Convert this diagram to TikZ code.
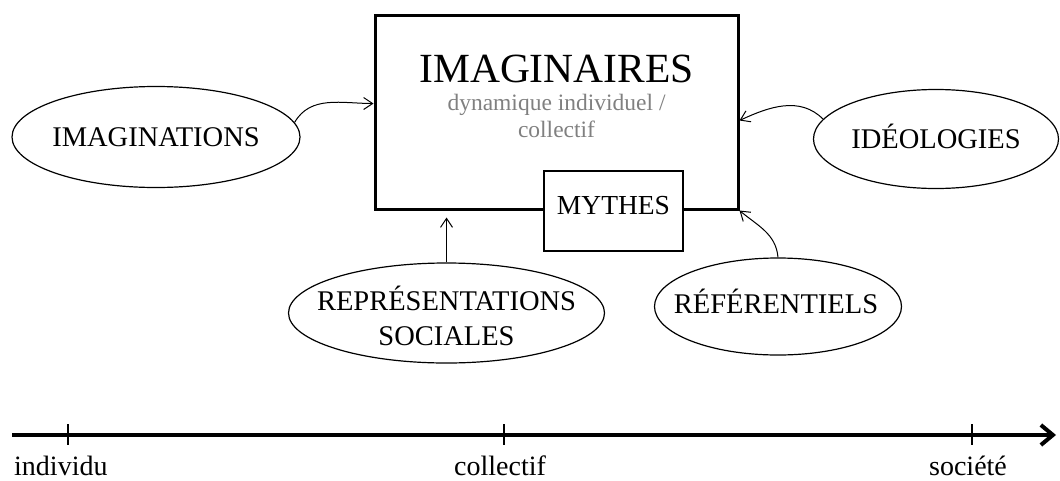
\documentclass[tikz,border=0pt]{standalone}
\usepackage{fontspec}
\setmainfont{Liberation Serif}
\usetikzlibrary{arrows.meta,shapes.geometric}
\definecolor{subgray}{HTML}{808080}
\tikzset{
  bigbox/.style={draw, line width=3pt, minimum width=363pt, minimum height=194pt, inner sep=0pt},
  mythbox/.style={draw, fill=white, line width=2.5pt, minimum width=139pt, minimum height=80pt, inner sep=0pt},
  oval/.style={draw, ellipse, line width=1.2pt, inner sep=0pt},
  lbl/.style={font=\fontsize{28.5}{35}\selectfont, inner sep=0pt, anchor=base},
  axlbl/.style={font=\fontsize{28}{28}\selectfont, inner sep=0pt, anchor=base},
  conn/.style={line width=1pt, -{Straight Barb[length=9pt,width=12pt]}},
  axis/.style={line width=4pt, -{Straight Barb[length=12pt,width=20pt]}},
  tick/.style={line width=1.5pt}
}
\begin{document}
\begin{tikzpicture}[x=1pt,y=-1pt]
\useasboundingbox (0,0) rectangle (1060,480);
% main box
\node[bigbox] (imaginaires) at (556.5,112) {};
\node[inner sep=0pt, anchor=base, font=\fontsize{41.5}{41.5}\selectfont] (title) at (556.5,82) {IMAGINAIRES};
\node[inner sep=0pt, anchor=base, text=subgray, font=\fontsize{23.5}{27}\selectfont] (sub1) at (556.5,110) {dynamique individuel /};
\node[inner sep=0pt, anchor=base, text=subgray, font=\fontsize{23.5}{27}\selectfont] (sub2) at (556.5,137) {collectif};
% mythes
\node[mythbox] (mythesbox) at (613.5,211) {};
\node[inner sep=0pt, anchor=base, font=\fontsize{27.5}{27.5}\selectfont] (mythes) at (613.5,214) {MYTHES};
% ellipses
\node[oval, minimum width=288pt, minimum height=101pt] (imagn) at (156,137) {};
\node[lbl] (imagnl) at (156,146) {IMAGINATIONS};
\node[oval, minimum width=245pt, minimum height=99pt] (ideo) at (936,139) {};
\node[lbl] (ideol) at (936,148) {IDÉOLOGIES};
\node[oval, minimum width=316pt, minimum height=100pt] (rep) at (446.5,313) {};
\node[lbl] (repl1) at (446.5,310) {REPRÉSENTATIONS};
\node[lbl] (repl2) at (446.5,345) {SOCIALES};
\node[oval, minimum width=247pt, minimum height=97pt] (ref) at (778,306.5) {};
\node[lbl] (refl) at (776,313) {RÉFÉRENTIELS};
% connectors
\draw[conn] (imagn.6) to[out=60,in=180] ([yshift=-90pt]imaginaires.north west);
\draw[conn] (ideo.170) to[out=135,in=25] ([yshift=-107pt]imaginaires.north east);
\draw[conn, shorten >=7pt] (rep.north) -- (rep.north |- imaginaires.south);
\draw[conn] (ref.north) to[out=95,in=-40] (imaginaires.south east);
% axis
\coordinate (axstart) at (12,435);
\coordinate (axend) at (1056,435);
\draw[axis] (axstart) -- (axend);
\coordinate (t1) at (68,435);
\coordinate (t2) at (504,435);
\coordinate (t3) at (972,435);
\foreach \t in {t1,t2,t3} \draw[tick] ([yshift=11pt]\t) -- ([yshift=-10pt]\t);
\node[axlbl, anchor=base west] (individu) at (14,475) {individu};
\node[axlbl] (collectif) at (500,475) {collectif};
\node[axlbl] (societe) at (968,475) {société};
\end{tikzpicture}
\end{document}
